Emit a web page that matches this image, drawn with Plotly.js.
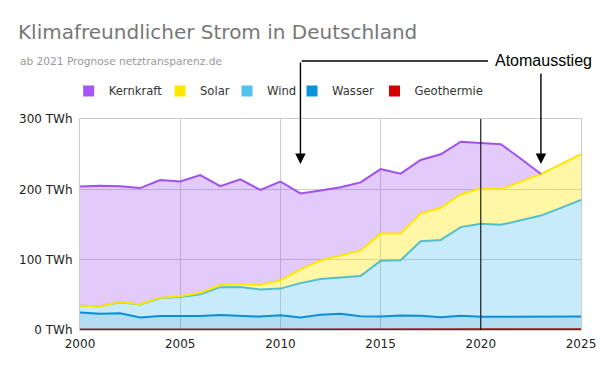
<!DOCTYPE html>
<html>
<head>
<meta charset="utf-8">
<script src="https://cdn.plot.ly/plotly-3.0.1.min.js"></script>
<style>html,body{margin:0;padding:0;background:#fff;}#chart{width:600px;height:371px;}</style>
</head>
<body>
<div id="chart"></div>
<script>
// ---- data (TWh) ----
const years = [2000,2001,2002,2003,2004,2005,2006,2007,2008,2009,2010,2011,2012,2013,2014,2015,2016,2017,2018,2019,2020,2021,2022,2023,2024,2025];
const geothermie = [0,0,0,0,0.0002,0.0002,0.0004,0.0004,0.018,0.019,0.028,0.019,0.025,0.08,0.098,0.133,0.175,0.163,0.178,0.197,0.231,0.25,0.3,0.3,0.35,0.4];
const wasser = [24.9,23.2,23.7,17.7,19.9,19.6,20.0,21.2,20.4,19.0,21.0,17.7,21.8,23.0,19.6,19.0,20.5,20.2,18.0,20.2,18.7,18.7,18.7,18.7,18.7,18.7];
const wind = [9.5,10.5,15.8,18.7,25.5,27.2,30.7,39.7,40.6,38.6,37.8,48.9,50.7,51.7,57.0,79.2,78.6,105.7,109.9,125.9,132.1,130.6,136.7,143.7,154.6,165.7];
const solar = [0.06,0.1,0.2,0.3,0.6,1.3,2.2,3.1,4.4,6.6,11.7,19.6,26.4,31.0,36.1,38.7,38.1,39.4,45.8,46.4,50.6,50.7,55.3,59.0,62.3,65.4];
const kernkraftYears = [2000,2001,2002,2003,2004,2005,2006,2007,2008,2009,2010,2011,2012,2013,2014,2015,2016,2017,2018,2019,2020,2021,2022,2023];
const kernkraft = [169.6,171.3,164.8,165.1,167.1,163.0,167.3,140.5,148.8,134.9,140.6,108.0,99.5,97.3,97.1,91.8,84.9,76.3,76.0,75.1,64.4,64.0,32.4,0];
const seriesNames = ['Kernkraft','Solar','Wind','Wasser','Geothermie'];
const prognoseStart = 2020;
const atomausstiegYears = [2011, 2023];

// ---- styles ----
const legendColors = {Kernkraft:'#a855f7', Solar:'#ffe600', Wind:'#4fc3ee', Wasser:'#0a93dc', Geothermie:'#d40000'};
const fills = {Kernkraft:'rgba(160,80,240,0.3)', Solar:'rgba(255,230,0,0.35)', Wind:'rgba(70,190,235,0.3)', Wasser:'rgba(0,143,216,0.3)', Geothermie:'rgba(204,0,0,0.3)'};
const lineColors = {Kernkraft:'#a050ee', Solar:'#ffe600', Wind:'#55bdd0', Wasser:'#0a8fd8', Geothermie:'#a01010'};
const lineWidths = {Kernkraft:2, Solar:2, Wind:2, Wasser:2, Geothermie:3};
// legend entry left edges (paper fraction) for each series
const legendX = [-0.0226, 0.1597, 0.2934, 0.4232, 0.5878];

// cumulative stacking
function add(a,b){return a.map((v,i)=>v+(b[i]||0));}
const cGeo = geothermie.slice();
const cWasser = add(cGeo, wasser);
const cWind = add(cWasser, wind);
const cSolar = add(cWind, solar);
const cKern = kernkraft.map((v,i)=>v+cSolar[i]);

function area(name, x, y, fill){
  return {type:'scatter', mode:'lines', name:name, x:x, y:y, fill:fill,
    fillcolor:fills[name], line:{color:lineColors[name], width:lineWidths[name]}, showlegend:false, hoverinfo:'skip'};
}
const traces = [
  area('Geothermie', years, cGeo, 'tozeroy'),
  area('Wasser', years, cWasser, 'tonexty'),
  area('Wind', years, cWind, 'tonexty'),
  area('Solar', years, cSolar, 'tonexty'),
  area('Kernkraft', kernkraftYears, cKern, 'tonexty')
];

const font = 'DejaVu Sans, Verdana, sans-serif';
const layout = {
  width:600, height:371,
  margin:{l:80, r:19, t:119, b:41},
  paper_bgcolor:'#fff', plot_bgcolor:'#fff',
  font:{family:font, size:12, color:'#222'},
  title:{text:'Klimafreundlicher Strom in Deutschland', font:{family:font, size:20, color:'#777'},
    x:0.03, xanchor:'left', xref:'container', y:0.913, yanchor:'middle', yref:'container'},
  showlegend:true,
  xaxis:{range:[2000,2025], tickvals:[2000,2005,2010,2015,2020,2025], showgrid:true, gridcolor:'#cccccc',
    zeroline:false, showline:true, linecolor:'#cccccc', mirror:true, ticks:'', ticklabelstandoff:3, layer:'below traces', tickfont:{size:12, color:'#222'}, fixedrange:true},
  yaxis:{range:[0,300], dtick:100, ticksuffix:' TWh', showgrid:true, gridcolor:'#cccccc',
    zeroline:false, showline:true, linecolor:'#cccccc', mirror:true, ticks:'', ticklabelstandoff:4, layer:'below traces', tickfont:{size:12, color:'#222'}, fixedrange:true},
  shapes:[
    {type:'line', xref:'x', yref:'paper', x0:prognoseStart, x1:prognoseStart, y0:0, y1:1, line:{color:'#000', width:1}},
    {type:'line', xref:'paper', yref:'paper', x0:0.4425, x1:0.8144, y0:1.275, y1:1.275, line:{color:'#000', width:1.3}}
  ],
  annotations:[
    {text:'Atomausstieg', xref:'paper', yref:'paper', x:0.824, y:1.275, xanchor:'left', yanchor:'middle',
      showarrow:false, font:{family:'Liberation Sans, Arial, sans-serif', size:16, color:'#000'}},
    {text:'', x:atomausstiegYears[0], y:236, xref:'x', yref:'y', axref:'x', ayref:'y', ax:atomausstiegYears[0], ay:382.5,
      showarrow:true, arrowhead:2, arrowsize:1.5, arrowwidth:1.4, arrowcolor:'#000', standoff:0},
    {text:'', x:atomausstiegYears[1], y:236, xref:'x', yref:'y', axref:'x', ayref:'y', ax:atomausstiegYears[1], ay:367,
      showarrow:true, arrowhead:2, arrowsize:1.5, arrowwidth:1.4, arrowcolor:'#000', standoff:0},
    {text:'ab 2021 Prognose netztransparenz.de', xref:'paper', yref:'paper', x:-0.1238, y:1.275,
      xanchor:'left', yanchor:'middle', showarrow:false, font:{family:font, size:10.6, color:'#999'}}
  ]
};

// one legend per series so entries sit where the reference puts them
seriesNames.forEach((n,i)=>{
  const key = i === 0 ? 'legend' : 'legend' + (i+1);
  layout[key] = {orientation:'h', x:legendX[i], xanchor:'left', y:1.133, yanchor:'middle',
    font:{family:font, size:11.6, color:'#333'}, bgcolor:'rgba(0,0,0,0)'};
  traces.push({type:'scatter', mode:'markers', name:n, x:[null], y:[null], legend:key,
    marker:{symbol:'square', size:11, color:legendColors[n]}, showlegend:true, hoverinfo:'skip'});
});

Plotly.newPlot('chart', traces, layout, {displayModeBar:false, staticPlot:true});
</script>
</body>
</html>
